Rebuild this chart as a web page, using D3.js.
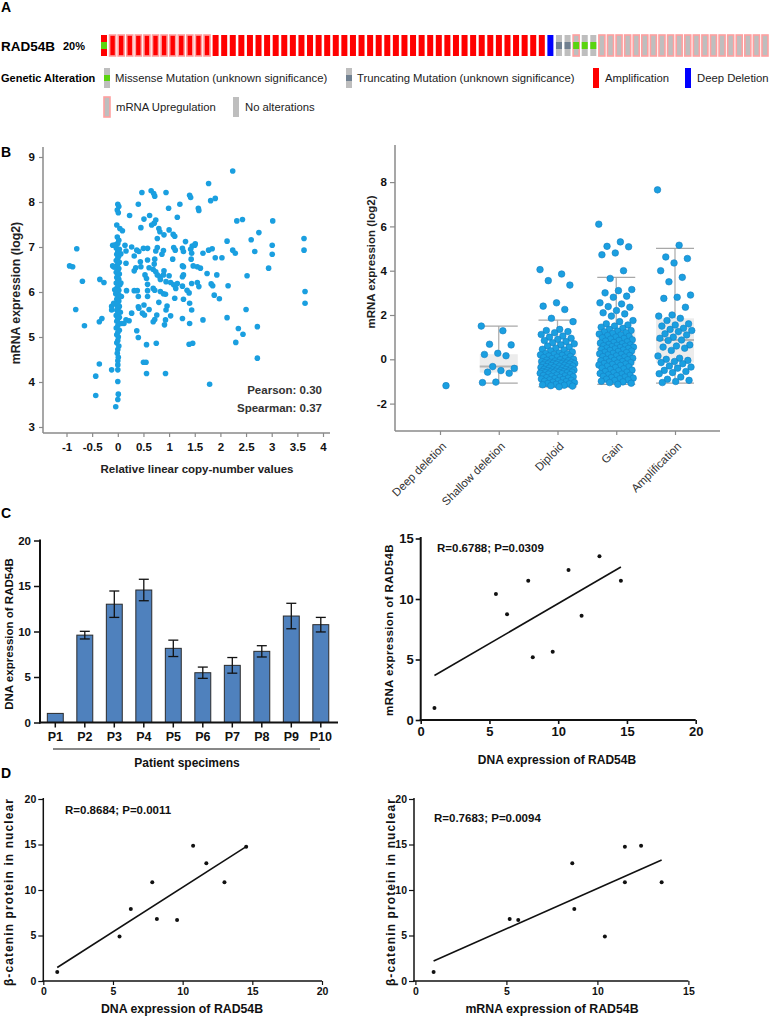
<!DOCTYPE html>
<html><head><meta charset="utf-8">
<script src="https://cdn.jsdelivr.net/npm/d3@7"></script>
<style>
body{margin:0;background:#fff}
svg{display:block;font-family:"Liberation Sans",Arial,sans-serif}
</style></head><body>
<svg id="c" width="769" height="1020"></svg>
<script>
// ---------------- DATA ----------------
// Panel A: oncoprint tracks (run-length: [code, count]) for 78 samples
const cnaRuns = [["AMP",52],["HOMDEL",1],["NONE",25]];
const mrnaRuns = [["",1],["UP",12],["",42],["UP",1],["",2],["UP",20]];
const mutRuns = [["MIS",1],["",52],["TRUNC",2],["MIS",3],["",20]];
const geneName = "RAD54B";
const alteredPct = "20%";
const legendRow1 = ["Missense Mutation (unknown significance)","Truncating Mutation (unknown significance)","Amplification","Deep Deletion"];
const legendRow2 = ["mRNA Upregulation","No alterations"];

// Panel B left: [relative linear copy number, mRNA log2]
const cnvPoints = [
[2.24,8.69],[1.77,8.41],[0.47,8.21],[0.65,8.25],[0.70,8.19],[0.72,8.13],[0.94,8.21],[1.40,8.15],[1.42,8.10],[1.81,8.03],[1.90,8.08],[1.21,7.95],[0.99,7.86],[0.40,7.95],[1.57,7.86],[1.58,7.81],[0.23,7.70],[0.62,7.70],[0.51,7.62],[0.74,7.60],[0.71,7.53],[1.16,7.66],[2.32,7.58],[2.43,7.61],[3.02,7.58],[0.45,7.43],[0.66,7.49],[0.80,7.41],[0.82,7.34],[1.00,7.38],[1.08,7.28],[1.11,7.24],[0.90,7.27],[0.77,7.19],[1.32,7.12],[1.51,7.07],[1.45,7.02],[2.13,7.13],[2.60,7.16],[2.75,7.32],[3.63,7.19],[3.63,6.93],[3.01,7.04],[3.01,6.84],[2.67,6.90],[2.24,6.93],[2.29,6.86],[1.77,6.93],[1.84,6.96],[1.66,6.86],[1.90,6.76],[2.03,6.76],[2.15,6.14],[2.94,6.53],[2.52,6.36],[1.82,6.18],[1.85,6.14],[1.93,6.38],[1.88,5.93],[1.98,5.85],[1.74,6.41],[1.61,6.53],[1.47,6.58],[1.55,6.56],[1.43,6.73],[1.42,6.95],[1.50,7.04],[1.44,6.86],[1.26,6.97],[1.28,6.90],[1.09,6.99],[1.12,6.93],[1.07,6.73],[0.86,6.84],[0.89,6.92],[0.77,6.99],[0.74,6.91],[0.58,6.97],[0.50,6.97],[0.41,6.90],[0.37,6.93],[0.27,7.00],[0.32,6.80],[0.14,7.04],[0.16,6.91],[0.44,6.67],[0.58,6.71],[0.72,6.73],[0.71,6.62],[0.35,6.54],[0.45,6.56],[0.32,6.47],[0.16,6.64],[0.53,6.38],[0.56,6.30],[0.61,6.54],[0.69,6.50],[0.74,6.45],[0.77,6.38],[0.82,6.34],[0.90,6.47],[0.89,6.38],[0.83,6.28],[0.94,6.23],[1.03,6.21],[1.09,6.16],[1.13,6.08],[1.26,6.34],[1.28,6.38],[1.26,6.58],[1.28,6.56],[1.35,6.04],[1.39,5.98],[1.26,6.13],[1.44,6.19],[1.55,6.21],[1.58,6.12],[1.16,6.19],[1.00,6.36],[0.58,6.17],[0.58,6.03],[0.69,6.08],[0.72,6.04],[0.83,6.01],[0.89,5.96],[0.93,5.95],[0.32,6.03],[0.38,6.03],[0.17,6.03],[0.58,5.90],[0.40,5.90],[0.40,5.67],[0.41,5.64],[0.51,5.71],[0.61,5.61],[0.48,5.53],[0.52,5.49],[0.72,5.39],[0.69,5.34],[0.76,5.49],[0.80,5.77],[0.96,5.69],[0.94,5.60],[0.93,5.38],[1.03,5.47],[0.91,5.27],[1.11,5.86],[1.28,5.84],[1.40,5.75],[1.44,5.60],[1.26,5.41],[1.40,5.30],[1.66,5.38],[2.13,5.43],[2.50,5.61],[2.35,5.19],[2.44,5.06],[2.30,4.88],[2.72,5.23],[2.72,4.53],[1.39,4.84],[1.46,4.86],[0.75,4.86],[0.56,4.83],[0.40,4.99],[0.37,5.14],[0.27,5.53],[0.16,5.38],[0.22,5.36],[0.12,5.30],[0.50,4.44],[0.55,4.44],[0.56,4.19],[0.93,4.19],[1.79,3.95],[3.65,6.01],[3.65,5.75],
[-0.94,6.58],[-0.88,6.56],[-0.80,6.96],[-0.69,6.24],[-0.82,5.61],[-0.65,5.25],[-0.35,6.28],[-0.27,6.21],[-0.31,5.41],[-0.36,5.34],[-0.36,4.40],[-0.43,4.13],[-0.43,3.70],[-0.12,4.27],[-0.10,7.04],[-0.10,6.58],[-0.12,5.60],[-0.12,5.68],
[0.00,7.95],[0.02,7.90],[-0.01,7.82],[0.01,7.76],[-0.02,7.49],[0.04,7.41],[0.09,7.36],[-0.01,7.22],[0.02,7.15],[0.00,7.08],[-0.03,6.98],[0.03,6.95],[0.00,6.90],[-0.02,6.84],[0.02,6.80],[0.00,6.75],[-0.03,6.70],[0.03,6.66],[0.00,6.62],[-0.02,6.57],[0.02,6.52],[0.00,6.48],[-0.03,6.44],[0.03,6.40],[0.00,6.36],[-0.02,6.32],[0.02,6.28],[0.00,6.24],[-0.03,6.20],[0.04,6.16],[0.00,6.12],[-0.02,6.08],[0.02,6.04],[0.00,6.00],[-0.04,5.96],[0.03,5.92],[0.00,5.88],[-0.02,5.84],[0.02,5.80],[0.00,5.76],[-0.03,5.72],[0.03,5.68],[0.00,5.64],[-0.02,5.60],[0.02,5.56],[0.00,5.52],[-0.03,5.48],[0.03,5.44],[0.00,5.40],[-0.02,5.35],[0.02,5.30],[0.00,5.25],[-0.03,5.20],[0.03,5.15],[0.00,5.10],[-0.02,5.05],[0.01,5.00],[0.00,4.92],[-0.02,4.87],[0.02,4.80],[0.00,4.72],[-0.01,4.64],[0.01,4.55],[0.00,4.47],[0.00,4.38],[0.00,4.27],[0.00,4.01],[0.01,3.73],[0.00,3.61],[-0.04,3.45],[-0.08,5.75],[-0.06,6.05],[-0.07,6.55],[-0.05,7.05],[0.06,6.20],[0.07,5.90],[0.05,5.55],[0.06,6.85],[0.08,5.30]
];
const cnvXTicks = [-1,-0.5,0,0.5,1,1.5,2,2.5,3,3.5,4];
const cnvYTicks = [3,4,5,6,7,8,9];
const corrLabels = ["Pearson: 0.30","Spearman: 0.37"];

// Panel B right: mRNA (log2) by copy-number category
const cnaCategories = ["Deep deletion","Shallow deletion","Diploid","Gain","Amplification"];
const deepDeletionVals = [-1.19];
const shallowVals = [1.5,1.29,0.68,0.65,0.27,0.22,0.16,-0.33,-0.41,-0.51,-0.58,-0.63,-1.03,-1.05];
const diploidVals = [4.05,3.85,3.55,3.35,2.55,2.4,2.25,1.85,1.7,1.35,1.3,1.25,1.2,1.12,1.05,1.0,0.95,0.9,0.85,0.8,0.75,0.7,0.65,0.6,0.55,0.5,0.45,0.42,0.38,0.33,
0.28,0.26,0.24,0.22,0.2,0.18,0.15,0.13,0.1,0.08,0.05,0.03,0.0,-0.02,-0.04,-0.06,-0.08,-0.1,-0.12,-0.13,-0.14,-0.15,-0.16,-0.17,-0.18,-0.19,-0.2,-0.21,-0.22,-0.23,
-0.25,-0.27,-0.28,-0.3,-0.31,-0.33,-0.34,-0.36,-0.37,-0.39,-0.4,-0.42,-0.43,-0.45,-0.46,-0.48,-0.49,-0.5,-0.51,-0.53,-0.54,-0.55,-0.56,-0.57,-0.58,-0.59,-0.6,-0.61,-0.62,-0.63,
-0.65,-0.67,-0.69,-0.71,-0.73,-0.75,-0.77,-0.79,-0.81,-0.83,-0.85,-0.87,-0.89,-0.91,-0.93,-0.95,-0.97,-0.99,-1.01,-1.03,-1.05,-1.07,-1.09,-1.11,-1.13,-1.15,-1.17,-1.19,-1.21,-1.24];
const gainVals = [6.1,5.3,5.1,5.08,4.8,4.72,4.0,3.65,3.15,3.1,3.0,2.85,2.8,2.55,2.5,2.38,2.35,2.2,2.1,2.05,1.95,1.75,1.7,1.6,1.55,1.5,1.45,1.4,1.35,1.3,
1.27,1.24,1.2,1.17,1.14,1.1,1.07,1.04,1.0,0.97,0.94,0.91,0.88,0.85,0.82,0.79,0.76,0.73,0.7,0.67,0.65,0.63,0.61,0.59,0.57,0.55,0.53,0.51,0.49,0.47,
0.45,0.42,0.4,0.37,0.35,0.32,0.3,0.27,0.25,0.22,0.2,0.17,0.15,0.12,0.1,0.07,0.05,0.02,0.0,-0.02,-0.05,-0.07,-0.1,-0.12,-0.15,-0.17,-0.19,-0.21,-0.23,-0.26,
-0.28,-0.31,-0.34,-0.37,-0.4,-0.43,-0.46,-0.49,-0.52,-0.55,-0.58,-0.61,-0.64,-0.67,-0.7,-0.72,-0.74,-0.77,-0.8,-0.82,-0.85,-0.88,-0.9,-0.93,-0.96,-0.99,-1.02,-1.05,-1.08,-1.13];
const ampVals = [7.65,5.15,4.62,4.55,4.35,4.0,3.7,3.5,2.9,2.8,2.75,2.35,2.0,1.95,1.85,
1.75,1.6,1.55,1.5,1.4,1.35,1.3,1.25,1.15,1.1,1.0,0.95,0.87,
0.85,0.65,0.6,0.55,0.5,0.4,0.15,0.05,0.0,-0.05,-0.1,-0.15,
-0.2,-0.3,-0.35,-0.4,-0.5,-0.55,-0.6,-0.65,-0.8,-0.9,-0.95,-1.0,-1.05];
// box stats: [q1, median, q3, whiskerLow, whiskerHigh]
const boxStats = [null,[-0.60,-0.33,0.23,-1.08,1.50],[-0.63,-0.23,0.30,-1.24,1.77],[-0.26,0.47,1.29,-1.13,3.70],[-0.15,0.87,1.85,-1.08,5.01]];
const boxYTicks = [-2,0,2,4,6,8];

// Panel C left: DNA expression per patient
const patients = ["P1","P2","P3","P4","P5","P6","P7","P8","P9","P10"];
const dnaExpr = [1.0,9.6,13.0,14.56,8.15,5.47,6.28,7.82,11.7,10.75];
const dnaErr = [0,0.42,1.45,1.18,0.9,0.62,0.86,0.62,1.4,0.8];
// Panel C right / D
const mrnaExpr = [1.0,5.65,13.53,11.51,5.18,10.41,8.73,11.51,8.62,12.4];
const betaCatenin = [1.0,6.7,10.85,14.76,6.8,4.9,7.9,10.85,12.93,14.87];
const statC = "R=0.6788; P=0.0309";
const statD1 = "R=0.8684; P=0.0011";
const statD2 = "R=0.7683; P=0.0094";

// ---------------- DRAW ----------------
const svg = d3.select("#c");
svg.append("rect").attr("width",769).attr("height",1020).attr("fill","#fff");
function T(x,y,t,o={}){
  return svg.append("text").attr("x",x).attr("y",y).text(t)
    .attr("font-size",o.fs||12).attr("font-weight",o.fw||"normal")
    .attr("fill",o.fill||"#000").attr("text-anchor",o.anchor||"start")
    .attr("letter-spacing",o.ls||null);
}
function VT(cx,cy,t,o={}){
  return svg.append("text").attr("transform",`translate(${cx},${cy}) rotate(-90)`)
    .attr("text-anchor","middle").attr("dominant-baseline","central").text(t)
    .attr("font-size",o.fs||12).attr("font-weight",o.fw||"bold").attr("fill",o.fill||"#000")
    .attr("letter-spacing",o.ls||null);
}
function L(x1,y1,x2,y2,c,w){
  return svg.append("line").attr("x1",x1).attr("y1",y1).attr("x2",x2).attr("y2",y2)
    .attr("stroke",c).attr("stroke-width",w);
}
function drawAxis(gen,tx,ty,o){
  const g = svg.append("g").attr("transform",`translate(${tx},${ty})`).call(gen);
  g.attr("font-family",null).attr("font-size",null);
  g.select(".domain").remove();
  g.selectAll(".tick line").attr("stroke",o.color).attr("stroke-width",o.sw);
  g.selectAll(".tick text").attr("font-size",o.fs).attr("font-weight",o.fw||"bold").attr("fill",o.tc||"#111");
  return g;
}
const fmt = d=>String(d);
function expand(runs){const out=[];runs.forEach(([v,n])=>{for(let k=0;k<n;k++)out.push(v);});return out;}

// Panel letters
T(1,12,"A",{fs:14,fw:"bold"});
T(1,157,"B",{fs:14,fw:"bold"});
T(1,518,"C",{fs:14,fw:"bold"});
T(1,778,"D",{fs:14,fw:"bold"});

// ---- Panel A ----
const cna = expand(cnaRuns), mrna = expand(mrnaRuns), mut = expand(mutRuns);
const xA = d3.scaleBand().domain(d3.range(cna.length)).range([101,768]).paddingInner(0.3).paddingOuter(0);
const cnaColor = {AMP:"#ff0000",HOMDEL:"#0000ff",NONE:"#bebebe"};
const mutColor = {MIS:"#5ad40f",TRUNC:"#708090"};
const cellY = 35, cellH = 21;
const gA = svg.append("g");
gA.selectAll("rect.cell").data(cna).join("rect").attr("class","cell")
  .attr("x",(d,i)=>xA(i)).attr("y",cellY).attr("width",xA.bandwidth()).attr("height",cellH)
  .attr("fill",d=>cnaColor[d])
  .attr("stroke",(d,i)=>mrna[i]==="UP"?"#ffa0a0":"none").attr("stroke-width",1.6);
gA.selectAll("rect.mut").data(mut.map((m,i)=>({m,i})).filter(d=>d.m)).join("rect").attr("class","mut")
  .attr("x",d=>xA(d.i)).attr("y",cellY+7).attr("width",xA.bandwidth()).attr("height",7)
  .attr("fill",d=>mutColor[d.m]);
T(1,51,geneName,{fs:13.5,fw:"bold"});
T(63,50,alteredPct,{fs:11,fw:"bold"});
T(1,82,"Genetic Alteration",{fs:11,fw:"bold"});
function swatch(x,y,fill,inner,up){
  svg.append("rect").attr("x",x).attr("y",y).attr("width",6).attr("height",20).attr("fill",fill)
    .attr("stroke",up?"#ffa0a0":"none").attr("stroke-width",1.6);
  if(inner) svg.append("rect").attr("x",x).attr("y",y+7).attr("width",6).attr("height",6).attr("fill",inner);
}
const lfs = 11.3;
swatch(104,68,"#bebebe",mutColor.MIS); T(115,82,legendRow1[0],{fs:lfs,fill:"#222"});
swatch(346,68,"#bebebe",mutColor.TRUNC); T(357,82,legendRow1[1],{fs:lfs,fill:"#222"});
swatch(593,68,"#ff0000",null); T(605,82,legendRow1[2],{fs:lfs,fill:"#222"});
swatch(685,68,"#0000ff",null); T(697,82,legendRow1[3],{fs:lfs,fill:"#222"});
swatch(104,97,"#bebebe",null,true); T(116,111,legendRow2[0],{fs:lfs,fill:"#222"});
swatch(233,97,"#bebebe",null); T(245,111,legendRow2[1],{fs:lfs,fill:"#222"});

// ---- Panel B left ----
const xB = d3.scaleLinear().domain([-1,4]).range([66.5,323]);
const yB = d3.scaleLinear().domain([3,9]).range([427,157]);
const axC = "#8a8a8a";
L(43,147,43,433,axC,1.5); L(43,433,330,433,axC,1.5);
drawAxis(d3.axisLeft(yB).tickValues(cnvYTicks).tickSize(4).tickPadding(4).tickFormat(fmt),43,0,{color:axC,sw:1.2,fs:11.5});
drawAxis(d3.axisBottom(xB).tickValues(cnvXTicks).tickSize(4).tickPadding(6).tickFormat(fmt),0,433,{color:axC,sw:1.2,fs:11.5});
svg.append("g").selectAll("circle").data(cnvPoints).join("circle")
  .attr("cx",d=>xB(d[0])).attr("cy",d=>yB(d[1])).attr("r",2.8).attr("fill","#1a9fe0");
T(322,394,corrLabels[0],{fs:11.5,fw:"bold",fill:"#333",anchor:"end"});
T(322,412,corrLabels[1],{fs:11.5,fw:"bold",fill:"#333",anchor:"end"});
T(197,473,"Relative linear copy-number values",{fs:11.5,fw:"bold",fill:"#222",anchor:"middle"});
VT(16,293,"mRNA expression (log2)",{fs:12.3,fill:"#222"});

// ---- Panel B right ----
const groups = [deepDeletionVals,shallowVals,diploidVals,gainVals,ampVals];
const xR = d3.scalePoint().domain(cnaCategories).range([440,675]);
const yR = d3.scaleLinear().domain([-2,8]).range([403.6,182.1]);
L(395,145,395,431,axC,1.5); L(395,431,720,431,axC,1.5);
drawAxis(d3.axisLeft(yR).tickValues(boxYTicks).tickSize(5).tickPadding(3).tickFormat(fmt),395,0,{color:axC,sw:1.2,fs:11.5});
drawAxis(d3.axisBottom(xR).tickSize(4).tickFormat(""),0,431,{color:axC,sw:1.2,fs:11});
svg.append("g").selectAll("text").data(cnaCategories).join("text")
  .attr("transform",d=>`translate(${xR(d)+7},${447}) rotate(-45)`)
  .attr("text-anchor","end").attr("font-size",11.5).attr("fill","#333").text(d=>d);
const bw = 38;
const gBox = svg.append("g");
boxStats.forEach((s,i)=>{
  if(!s) return;
  const cx = xR(cnaCategories[i]);
  const [q1,med,q3,lo,hi] = s;
  gBox.append("line").attr("x1",cx).attr("x2",cx).attr("y1",yR(hi)).attr("y2",yR(lo)).attr("stroke","#b0b0b0").attr("stroke-width",1.3);
  gBox.append("rect").attr("x",cx-bw/2).attr("y",yR(q3)).attr("width",bw).attr("height",yR(q1)-yR(q3)).attr("fill","#ececec");
  gBox.append("line").attr("x1",cx-bw/2).attr("x2",cx+bw/2).attr("y1",yR(med)).attr("y2",yR(med)).attr("stroke","#b5b5b5").attr("stroke-width",2);
  [hi,lo].forEach(v=>gBox.append("line").attr("x1",cx-bw/2).attr("x2",cx+bw/2).attr("y1",yR(v)).attr("y2",yR(v)).attr("stroke","#a8a8a8").attr("stroke-width",1.3));
});
const gPts = svg.append("g");
groups.forEach((vals,gi)=>{
  const cx = xR(cnaCategories[gi]);
  gPts.selectAll(null).data(vals).join("circle")
    .attr("cx",(d,k)=> vals.length===1 ? cx+6 : cx + (((k*0.6180339)%1)-0.5)*bw*0.92)
    .attr("cy",d=>yR(d)).attr("r",3.3)
    .attr("fill","#1a9fe0").attr("stroke","#1680c2").attr("stroke-width",0.6);
});
VT(371,262,"mRNA expression (log2)",{fs:11.5,fill:"#222"});

// ---- Panel C left (bars) ----
const xC = d3.scaleBand().domain(patients).range([40.55,335.55]).paddingInner(0.46).paddingOuter(0.23);
const yC = d3.scaleLinear().domain([0,20]).range([722.5,540.5]);
svg.append("g").selectAll("rect").data(patients).join("rect")
  .attr("x",d=>xC(d)).attr("width",xC.bandwidth())
  .attr("y",(d,i)=>yC(dnaExpr[i])).attr("height",(d,i)=>yC(0)-yC(dnaExpr[i]))
  .attr("fill","#4f81bd").attr("stroke","#2a2a2a").attr("stroke-width",1);
const gErr = svg.append("g").attr("stroke","#111").attr("stroke-width",1.3);
patients.forEach((p,i)=>{
  if(!dnaErr[i]) return;
  const cx = xC(p)+xC.bandwidth()/2;
  gErr.append("line").attr("x1",cx).attr("x2",cx).attr("y1",yC(dnaExpr[i]+dnaErr[i])).attr("y2",yC(dnaExpr[i]-dnaErr[i]));
  [dnaExpr[i]+dnaErr[i],dnaExpr[i]-dnaErr[i]].forEach(v=>gErr.append("line").attr("x1",cx-5).attr("x2",cx+5).attr("y1",yC(v)).attr("y2",yC(v)));
});
L(40,539.5,40,723.5,"#111",2); L(39,722.5,338,722.5,"#111",2);
drawAxis(d3.axisLeft(yC).tickValues([0,5,10,15,20]).tickSize(6).tickPadding(3).tickFormat(fmt),40,0,{color:"#111",sw:1.5,fs:11.5});
drawAxis(d3.axisBottom(xC).tickSize(5).tickPadding(5),0,722.5,{color:"#111",sw:1.5,fs:12.5});
L(53,749,320,749,"#111",1);
T(187,767,"Patient specimens",{fs:12,fw:"bold",fill:"#111",anchor:"middle"});
VT(9,634,"DNA expression of RAD54B",{fs:11.5,fill:"#111"});

// regression helper
function lsq(xs,ys){
  const mx=d3.mean(xs), my=d3.mean(ys);
  const b = d3.sum(xs,(x,i)=>(x-mx)*(ys[i]-my))/d3.sum(xs,x=>(x-mx)*(x-mx));
  return {a:my-b*mx,b};
}
function scatterPanel(o){
  const {xs,ys,x,y,xTicks,yTicks,axisX0,axisY0,xEnd,yTop,fsTick,stat,statX,statY,xTitle,xTitleX,xTitleY,xTitleFs,yTitle,yTitleX,yTitleY,yTitleFs,yTitleLs,sw} = o;
  L(axisX0,yTop,axisX0,axisY0+sw/2,"#111",sw); L(axisX0-sw/2,axisY0,xEnd,axisY0,"#111",sw);
  drawAxis(d3.axisLeft(y).tickValues(yTicks).tickSize(5).tickPadding(2).tickFormat(fmt),axisX0,0,{color:"#111",sw:sw*0.8,fs:fsTick});
  drawAxis(d3.axisBottom(x).tickValues(xTicks).tickSize(4).tickPadding(3).tickFormat(fmt),0,axisY0,{color:"#111",sw:sw*0.8,fs:fsTick});
  svg.append("g").selectAll("circle").data(xs).join("circle")
    .attr("cx",d=>x(d)).attr("cy",(d,i)=>y(ys[i])).attr("r",2).attr("fill","#111");
  const r = lsq(xs,ys); const x0=d3.min(xs), x1=d3.max(xs);
  L(x(x0),y(r.a+r.b*x0),x(x1),y(r.a+r.b*x1),"#111",1.6);
  T(statX,statY,stat,{fs:11.5,fw:"bold",fill:"#111"});
  T(xTitleX,xTitleY,xTitle,{fs:xTitleFs,fw:"bold",fill:"#111",anchor:"middle"});
  VT(yTitleX,yTitleY,yTitle,{fs:yTitleFs,fill:"#111",ls:yTitleLs});
}
// ---- Panel C right ----
scatterPanel({xs:dnaExpr,ys:mrnaExpr,
  x:d3.scaleLinear().domain([0,20]).range([420.7,695.7]),
  y:d3.scaleLinear().domain([0,15]).range([720,538.5]),
  xTicks:[0,5,10,15,20],yTicks:[0,5,10,15],axisX0:420.7,axisY0:720,xEnd:695.7,yTop:537,fsTick:13,sw:2,
  stat:statC,statX:437,statY:552,xTitle:"DNA expression of RAD54B",xTitleX:557,xTitleY:764,xTitleFs:12,
  yTitle:"mRNA expression of RAD54B",yTitleX:389,yTitleY:630,yTitleFs:11.5,yTitleLs:0.4});
// ---- Panel D left ----
scatterPanel({xs:dnaExpr,ys:betaCatenin,
  x:d3.scaleLinear().domain([0,20]).range([43.3,322]),
  y:d3.scaleLinear().domain([0,20]).range([981,799]),
  xTicks:[0,5,10,15,20],yTicks:[0,5,10,15,20],axisX0:43.3,axisY0:981,xEnd:322,yTop:798,fsTick:10.5,sw:1.5,
  stat:statD1,statX:65,statY:814,xTitle:"DNA expression of RAD54B",xTitleX:182,xTitleY:1013,xTitleFs:12.3,
  yTitle:"β-catenin protein in nuclear",yTitleX:9,yTitleY:892,yTitleFs:12,yTitleLs:1.1});
// ---- Panel D right ----
scatterPanel({xs:mrnaExpr,ys:betaCatenin,
  x:d3.scaleLinear().domain([0,15]).range([415.4,688.4]),
  y:d3.scaleLinear().domain([0,20]).range([981,799]),
  xTicks:[0,5,10,15],yTicks:[0,5,10,15,20],axisX0:414,axisY0:981,xEnd:688.4,yTop:798,fsTick:10.5,sw:1.5,
  stat:statD2,statX:434,statY:822,xTitle:"mRNA expression of RAD54B",xTitleX:552,xTitleY:1013,xTitleFs:12.3,
  yTitle:"β-catenin protein in nuclear",yTitleX:391,yTitleY:892,yTitleFs:12,yTitleLs:1.1});
</script>
</body></html>
